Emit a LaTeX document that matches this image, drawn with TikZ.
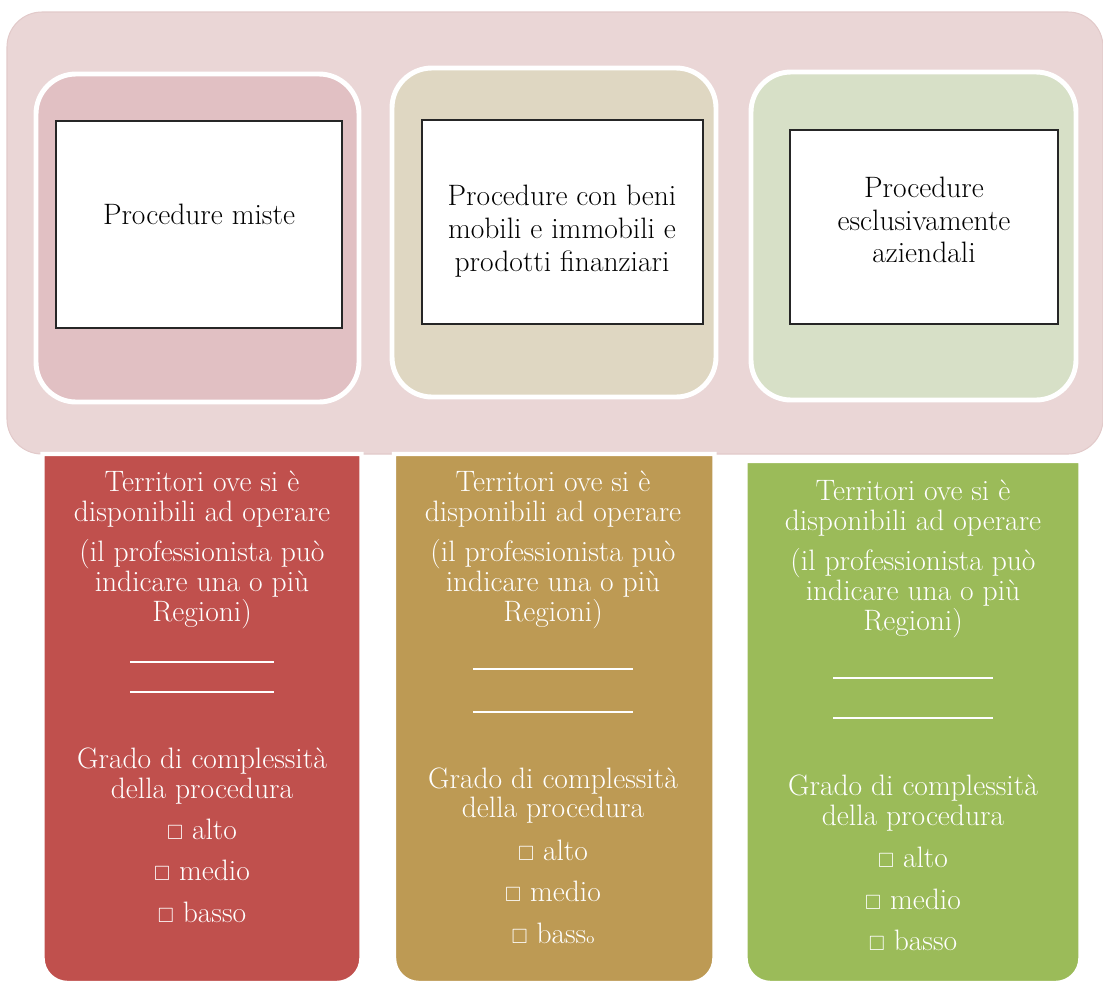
\documentclass[tikz,border=0pt]{standalone}
\usepackage{amsmath,amssymb}
\usepackage{tikz}
\usetikzlibrary{positioning,calc}
\definecolor{rosa}{RGB}{234,214,214}
\definecolor{rosab}{RGB}{226,202,202}
\definecolor{rosaf}{RGB}{225,192,195}
\definecolor{sabbia}{RGB}{223,215,194}
\definecolor{salvia}{RGB}{215,224,199}
\definecolor{rosso}{RGB}{192,80,77}
\definecolor{ocra}{RGB}{189,154,84}
\definecolor{verde}{RGB}{155,187,89}
\tikzset{
  fondo/.style={fill=rosa, draw=rosab, line width=0.6pt, rounded corners=0.7cm},
  riq/.style={draw=white, line width=2.8pt, rounded corners=0.8cm},
  bianco/.style={draw=black!85, fill=white, line width=0.6pt},
  tit/.style={align=center, inner sep=0pt, font=\fontsize{16.8}{18.7}\selectfont},
  col/.style={draw=white, line width=2.5pt},
  voci/.style={align=center, inner sep=0pt, anchor=north, text=white, font=\fontsize{16.8}{17}\selectfont},
}
\newcommand{\riga}[1]{\rule[-1.5pt]{#1}{0.7pt}}
\newcommand{\cas}{$\scriptstyle\square$}

\begin{document}
\begin{tikzpicture}[x=0.02cm, y=-0.02cm]
  \useasboundingbox (0,0) rectangle (1103,985);
  % fascia superiore
  \path[fondo] (7,12) rectangle (1103,454);
  \path[riq, fill=rosaf] (36,74) rectangle (359,402);
  \path[riq, fill=sabbia] (392,68) rectangle (716,397);
  \path[riq, fill=salvia] (751,72) rectangle (1076,400);
  \draw[bianco] (56,121) rectangle (342,328);
  \draw[bianco] (422,120) rectangle (703,324);
  \draw[bianco] (790,130) rectangle (1058,324);
  \node[tit] (miste) at (199,214) {Procedure miste};
  \node[tit] (beni) at (562,231) {Procedure con beni\\mobili e immobili e\\prodotti finanziari};
  \node[tit] (aziend) at (924,220) {Procedure\\esclusivamente\\aziendali};
  % colonne
  \draw[col, fill=rosso] (42.5,454) -- (42.5,958) arc[start angle=180, end angle=270, radius=0.5cm]
    -- (336.5,983) arc[start angle=270, end angle=360, radius=0.5cm] -- (361.5,454) -- cycle;
  \draw[col, fill=ocra] (394,454) -- (394,958) arc[start angle=180, end angle=270, radius=0.5cm]
    -- (689.5,983) arc[start angle=270, end angle=360, radius=0.5cm] -- (714.5,454) -- cycle;
  \draw[col, fill=verde] (745.5,461) -- (745.5,958) arc[start angle=180, end angle=270, radius=0.5cm]
    -- (1055.5,983) arc[start angle=270, end angle=360, radius=0.5cm] -- (1080.5,461) -- cycle;
  \node[voci] (terr1) at (202,471) {Territori ove si è\\
    disponibili ad operare\\[5.7pt]
    (il professionista può\\
    indicare una o più\\
    Regioni)\\[5pt]
    \riga{82pt}\\
    \riga{82pt}\\[28pt]
    Grado di complessità\\
    della procedura\\[6.3pt]
    \cas{} alto\\[6.3pt]
    \cas{} medio\\[6.6pt]
    \cas{} basso};
  \node[voci] (terr2) at (553,471) {Territori ove si è\\
    disponibili ad operare\\[5.7pt]
    (il professionista può\\
    indicare una o più\\
    Regioni)\\[9pt]
    \riga{91pt}\\[7.4pt]
    \riga{91pt}\\[27.5pt]
    Grado di complessità\\
    della procedura\\[7.4pt]
    \cas{} alto\\[6.3pt]
    \cas{} medio\\[6.8pt]
    \cas{} bass{\fontsize{9}{9}\selectfont o}};
  \node[voci] (terr3) at (913,480) {Territori ove si è\\
    disponibili ad operare\\[5.7pt]
    (il professionista può\\
    indicare una o più\\
    Regioni)\\[9pt]
    \riga{91pt}\\[5.7pt]
    \riga{91pt}\\[28.5pt]
    Grado di complessità\\
    della procedura\\[6.8pt]
    \cas{} alto\\[6.8pt]
    \cas{} medio\\[6.3pt]
    \cas{} basso};
\end{tikzpicture}
\end{document}
